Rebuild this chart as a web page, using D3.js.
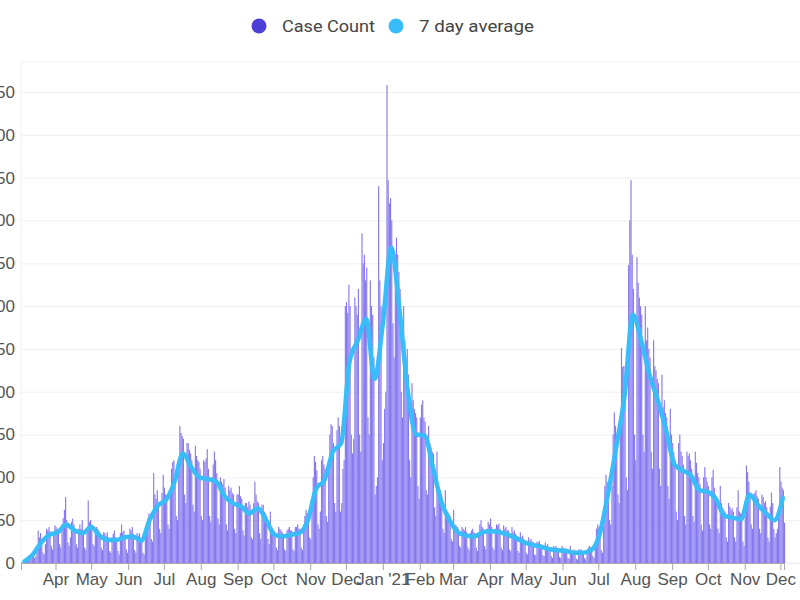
<!DOCTYPE html>
<html>
<head>
<meta charset="utf-8">
<script src="https://cdn.jsdelivr.net/npm/d3@7"></script>
<style>
  body { margin: 0; background: #fff; }
  svg { display: block; }
</style>
</head>
<body>
<div id="chart"></div>
<script>
// first day of the daily series
const startDay = "2020-03-03";

// daily case counts, one row per week (Tue..Mon)
const dailyCases = [
  1, 0, 2, 3, 1, 2, 4,
  5, 8, 11, 14, 6, 8, 20,
  38, 30, 35, 28, 12, 10, 22,
  40, 38, 42, 37, 20, 16, 35,
  44, 42, 40, 38, 22, 18, 45,
  52, 62, 77, 50, 24, 20, 30,
  48, 52, 45, 40, 22, 18, 40,
  45, 40, 50, 38, 18, 15, 38,
  73, 48, 50, 45, 22, 20, 36,
  42, 40, 38, 35, 18, 15, 36,
  35, 32, 36, 30, 14, 12, 30,
  34, 38, 30, 28, 14, 10, 35,
  45, 36, 38, 32, 16, 12, 30,
  40, 38, 42, 34, 15, 12, 35,
  32, 35, 30, 28, 12, 10, 35,
  45, 52, 58, 50, 28, 25, 105,
  80, 75, 85, 70, 40, 35, 82,
  103, 88, 80, 78, 45, 40, 85,
  110, 118, 120, 100, 55, 50, 112,
  160, 152, 148, 145, 80, 70, 140,
  140, 132, 128, 120, 68, 60, 137,
  125, 120, 118, 110, 55, 50, 120,
  118, 122, 133, 110, 55, 48, 100,
  115, 130, 120, 105, 52, 45, 100,
  95, 92, 98, 88, 45, 38, 90,
  85, 88, 82, 80, 40, 35, 80,
  80, 90, 78, 75, 38, 32, 70,
  70, 65, 72, 68, 30, 28, 70,
  95, 80, 72, 70, 35, 28, 68,
  68, 60, 58, 55, 28, 22, 60,
  42, 40, 38, 36, 18, 15, 42,
  40, 38, 36, 34, 16, 14, 38,
  40, 42, 38, 38, 16, 14, 42,
  42, 45, 40, 40, 18, 15, 45,
  55, 62, 58, 55, 30, 28, 62,
  100, 125, 118, 108, 45, 40, 60,
  120, 125, 115, 110, 55, 48, 110,
  150, 162, 160, 140, 70, 60, 155,
  170, 160, 60, 70, 110, 120, 300,
  305, 292, 325, 300, 150, 128, 145,
  310, 300, 290, 320, 150, 130, 385,
  350, 360, 330, 345, 170, 150, 330,
  300, 290, 240, 80, 90, 100, 440,
  330, 300, 120, 140, 180, 200, 558,
  447, 420, 426, 400, 280, 240, 360,
  380, 360, 340, 320, 200, 170, 300,
  260, 240, 250, 220, 120, 100, 210,
  190, 180, 175, 170, 90, 75, 170,
  185, 190, 170, 165, 85, 80, 160,
  140, 135, 130, 128, 65, 55, 130,
  90, 88, 85, 80, 40, 35, 85,
  62, 60, 58, 55, 28, 25, 62,
  45, 44, 42, 40, 20, 18, 42,
  40, 38, 42, 36, 18, 15, 35,
  38, 40, 36, 35, 18, 14, 36,
  45, 50, 42, 40, 20, 16, 40,
  48, 45, 52, 42, 18, 15, 40,
  45, 44, 46, 40, 18, 15, 44,
  40, 42, 38, 38, 16, 14, 42,
  36, 38, 34, 32, 14, 12, 36,
  30, 32, 28, 26, 12, 10, 30,
  26, 28, 25, 24, 10, 9, 25,
  24, 26, 22, 20, 9, 8, 24,
  20, 22, 18, 18, 8, 6, 20,
  18, 20, 17, 16, 7, 6, 20,
  18, 16, 17, 16, 6, 5, 20,
  15, 14, 16, 13, 5, 4, 16,
  15, 16, 14, 14, 6, 4, 15,
  18, 20, 18, 16, 8, 6, 20,
  40, 45, 42, 35, 15, 12, 42,
  90, 103, 95, 88, 50, 45, 90,
  150, 176, 160, 150, 80, 70, 160,
  251, 229, 230, 210, 100, 85, 348,
  400, 447, 360, 320, 150, 120, 357,
  327, 310, 300, 290, 150, 130, 300,
  260, 275, 250, 240, 130, 110, 260,
  230, 225, 215, 210, 110, 90, 220,
  182, 190, 175, 170, 90, 75, 180,
  150, 140, 130, 120, 60, 50, 140,
  150, 130, 125, 115, 55, 45, 130,
  125, 128, 120, 110, 55, 48, 130,
  117, 105, 100, 92, 45, 38, 100,
  112, 100, 95, 90, 45, 40, 100,
  109, 88, 80, 78, 40, 35, 90,
  70, 65, 62, 60, 30, 25, 70,
  66, 62, 64, 60, 30, 25, 65,
  85, 60, 58, 55, 25, 20, 55,
  114, 106, 95, 80, 45, 40, 80,
  82, 85, 78, 75, 40, 35, 80,
  77, 70, 72, 65, 30, 25, 66,
  82, 70, 40, 30, 35, 40, 52,
  112, 95, 88, 85, 47
];

// 7 day average, one reading per week (middle day of each week row)
const weeklyAvg = [
  2, 10, 24, 33, 36, 45, 38, 35, 42, 32,
  27, 27, 30, 31, 26, 50, 67, 74, 95, 128,
  112, 100, 98, 95, 78, 70, 66, 58, 64, 50,
  33, 31, 33, 35, 50, 87, 97, 130, 140, 235,
  260, 285, 215, 280, 368, 295, 200, 150, 149, 112,
  72, 50, 36, 32, 31, 36, 37, 36, 33, 29,
  24, 21, 19, 16, 15, 14, 12, 12, 15, 33,
  80, 135, 195, 290, 260, 220, 190, 155, 115, 108,
  102, 85, 83, 74, 55, 53, 51, 80, 68, 58,
  50, 76
];

// x axis month ticks and their labels
const monthTicks = [
  "2020-04-01", "2020-05-01", "2020-06-01", "2020-07-01", "2020-08-01",
  "2020-09-01", "2020-10-01", "2020-11-01", "2020-12-01", "2021-01-01",
  "2021-02-01", "2021-03-01", "2021-04-01", "2021-05-01", "2021-06-01",
  "2021-07-01", "2021-08-01", "2021-09-01", "2021-10-01", "2021-11-01",
  "2021-12-01"
];
const monthLabels = [
  "Apr", "May", "Jun", "Jul", "Aug", "Sep", "Oct", "Nov", "Dec", "Jan '21",
  "Feb", "Mar", "Apr", "May", "Jun", "Jul", "Aug", "Sep", "Oct", "Nov", "Dec"
];
const yTicks = [0, 50, 100, 150, 200, 250, 300, 350, 400, 450, 500, 550];

const legendLabels = ["Case Count", "7 day average"];
const legendColors = ["#4b3fd8", "#38bdf8"];

const width = 800;
const height = 600;
const margin = { left: 21, right: 16, top: 62, bottom: 37 };
const barColor = "#8678ef";
const lineColor = "#38bdf8";
const axisFont = "'Liberation Sans', Arial, sans-serif";

const parseDay = d3.timeParse("%Y-%m-%d");
const start = parseDay(startDay);
const dayDate = (i) => d3.timeDay.offset(start, i);

const svg = d3.select("#chart")
  .append("svg")
  .attr("width", width)
  .attr("height", height);

const xScale = d3.scaleTime()
  .domain([start, dayDate(dailyCases.length - 1)])
  .range([margin.left, width - margin.right]);

const yScale = d3.scaleLinear()
  .domain([0, 585])
  .range([height - margin.bottom, margin.top]);

//faint frame round the plot area
svg.append("rect")
  .attr("x", margin.left)
  .attr("y", margin.top)
  .attr("width", width - margin.left + 2)
  .attr("height", yScale(0) - margin.top)
  .attr("fill", "none")
  .attr("stroke", "#f1f1f1");

//y grid + labels (labels hang off the left edge like the original)
const yAxis = svg.append("g")
  .attr("transform", `translate(${margin.left}, 0)`)
  .call(
    d3.axisLeft(yScale)
      .tickValues(yTicks)
      .tickSize(-(width - margin.left))
      .tickPadding(6)
  );
yAxis.select(".domain").remove();
yAxis.selectAll("line").attr("stroke", "#efefef");
yAxis.selectAll("text")
  .attr("fill", "#555")
  .style("font-family", axisFont)
  .style("font-size", "17px");

//bars, one per day
const dayWidth = xScale(dayDate(1)) - xScale(dayDate(0));
svg.append("g")
  .selectAll("rect")
  .data(dailyCases)
  .enter()
  .append("rect")
    .attr("x", (d, i) => xScale(dayDate(i)))
    .attr("width", dayWidth * 0.95)
    .attr("y", (d) => yScale(d))
    .attr("height", (d) => yScale(0) - yScale(d))
    .attr("fill", barColor);

//7 day average line
const line = d3.line()
  .x((d, i) => xScale(dayDate(i * 7 + 3)))
  .y((d) => yScale(d))
  .curve(d3.curveMonotoneX);

svg.append("path")
  .datum(weeklyAvg)
  .attr("d", line)
  .attr("fill", "none")
  .attr("stroke", lineColor)
  .attr("stroke-width", 4.5)
  .attr("stroke-linejoin", "round")
  .attr("stroke-linecap", "round");

//x-Axis
const tickDates = monthTicks.map(parseDay);
const xAxis = svg.append("g")
  .attr("transform", `translate(0, ${yScale(0)})`)
  .call(
    d3.axisBottom(xScale)
      .tickValues(tickDates)
      .tickFormat((d, i) => monthLabels[i])
      .tickSizeInner(7)
      .tickSizeOuter(7)
      .tickPadding(3)
  );
xAxis.selectAll("path, line").attr("stroke", "#a8a8a8");
xAxis.selectAll("text")
  .attr("fill", "#555")
  .style("font-family", axisFont)
  .style("font-size", "17px");

//legend, centred over the plot
const legendX = [259, 396];
const legendW = [93, 115];
const legend = svg.append("g")
  .selectAll("g")
  .data(legendLabels)
  .enter()
  .append("g")
  .attr("transform", (d, i) => `translate(${legendX[i]}, 26)`);

legend.append("circle")
  .attr("r", 7.5)
  .attr("fill", (d, i) => legendColors[i]);

legend.append("text")
  .attr("x", 23)
  .attr("dy", "0.36em")
  .attr("textLength", (d, i) => legendW[i])
  .attr("lengthAdjust", "spacingAndGlyphs")
  .attr("fill", "#444")
  .style("font-family", "Roboto, sans-serif")
  .style("font-size", "17px")
  .text((d) => d);
</script>
</body>
</html>
